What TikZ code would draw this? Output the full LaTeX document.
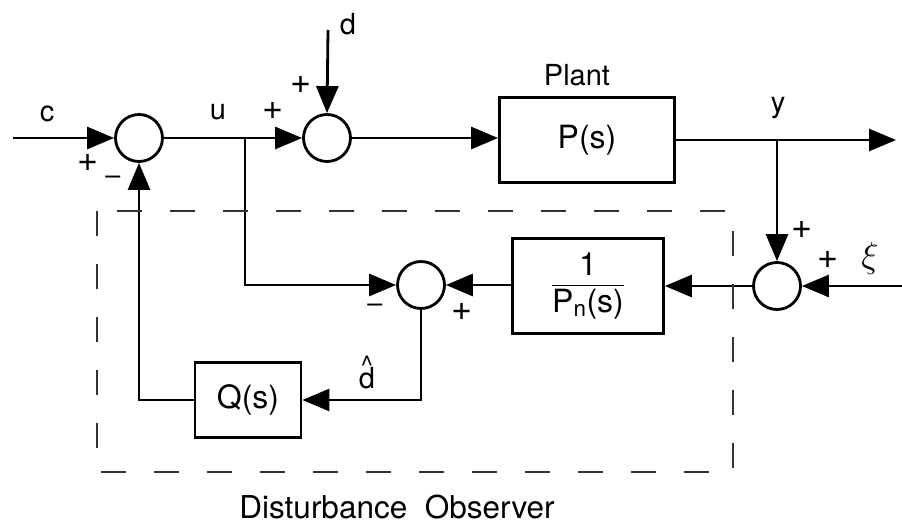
\documentclass[tikz,border=0pt]{standalone}
\usepackage{amsmath}
\usepackage{fontspec}
\setmainfont{TeX Gyre Heros}
\usetikzlibrary{arrows.meta}
\begin{document}
\begin{tikzpicture}[x=1pt,y=-1pt,
  sumnode/.style={circle,draw,line width=2.8pt,minimum size=47pt,inner sep=0pt},
  blockbox/.style={draw,line width=2.8pt,inner sep=0pt,font=\fontsize{32}{36}\selectfont},
  sig/.style={line width=2.8pt,-{Triangle[length=27pt,width=22pt]}},
  wire/.style={line width=2.8pt},
  lbl/.style={font=\fontsize{29}{33}\selectfont,inner sep=0pt},
  sgn/.style={font=\fontsize{36}{38}\selectfont,inner sep=0pt},
  msgn/.style={font=\fontsize{27}{30}\selectfont,inner sep=0pt},
  obs/.style={dash pattern=on 25pt off 28pt,line width=2.2pt,draw=black!80}]
\useasboundingbox (0,0) rectangle (902,527);
% nodes
\node[sumnode] (s1) at (139,138) {};
\node[sumnode] (s2) at (327,138) {};
\node[blockbox,minimum width=175pt,minimum height=85pt] (plant) at (587,140) {P(s)};
\node[sumnode] (s3) at (421,285) {};
\node[blockbox,minimum width=151pt,minimum height=95pt] (pn) at (588,286) {$\dfrac{\text{1}}{\text{P}_{\text{n}}\text{(s)}}$};
\node[sumnode] (s4) at (777,286) {};
\node[blockbox,minimum width=106pt,minimum height=75pt] (q) at (248,400) {Q(s)};
\coordinate (cin) at (13,138);
\coordinate (ju) at (245,138);
\coordinate (din) at (328,30);
\coordinate (jy) at (777,140);
\coordinate (yout) at (896,140);
\coordinate (xiin) at (902,286);
% connectors
\draw[sig] (cin) -- (s1.west);
\draw[wire] (s1.east) -- (ju);
\draw[sig] (ju) -- (s2.west);
\draw[sig] (din) -- (s2.north);
\draw[sig] (s2.east) -- (s2.east -| plant.west);
\draw[sig] (plant.east |- jy) -- (yout);
\draw[sig] (jy) -- (s4.north);
\draw[sig] (xiin) -- (s4.east);
\draw[sig] (s4.west) -- (s4.west -| pn.east);
\draw[sig] (pn.west |- s3.east) -- (s3.east);
\draw[sig] (ju) |- (s3.west);
\draw[sig] (s3.south) |- (q.east);
\draw[sig] (q.west) -| (s1.south);
% observer box
\draw[obs] (97,211) rectangle (733,472);
% labels
\node[lbl] (lc) at (47,114) {c};
\node[lbl] (lu) at (218,112) {u};
\node[lbl] (ld) at (348,24) {d};
\node[lbl] (lplant) at (577,75) {Plant};
\node[lbl] (ly) at (778,108) {y};
\node[font=\fontsize{24.88}{28}\selectfont,inner sep=0pt,scale=1.45] (lxi) at (870,258) {$\xi$};
\node[lbl,anchor=base] (ldh) at (367,388) {\ooalign{d\cr\hidewidth\raisebox{14pt}{\fontsize{26}{28}\selectfont\textasciicircum}\hidewidth\cr}};
\node[font=\fontsize{31.5}{34}\selectfont,inner sep=0pt] (lobs) at (397,507) {Disturbance\ \ Observer};
\node[sgn] (p1) at (88,163) {+};
\node[msgn] (m1) at (113,180) {–};
\node[sgn] (p2) at (273,111) {+};
\node[sgn] (p3) at (301,85) {+};
\node[sgn] (p4) at (802,230) {+};
\node[sgn] (p5) at (828,260) {+};
\node[msgn] (m3) at (375,308) {–};
\node[sgn] (p6) at (462,312) {+};
\end{tikzpicture}
\end{document}
